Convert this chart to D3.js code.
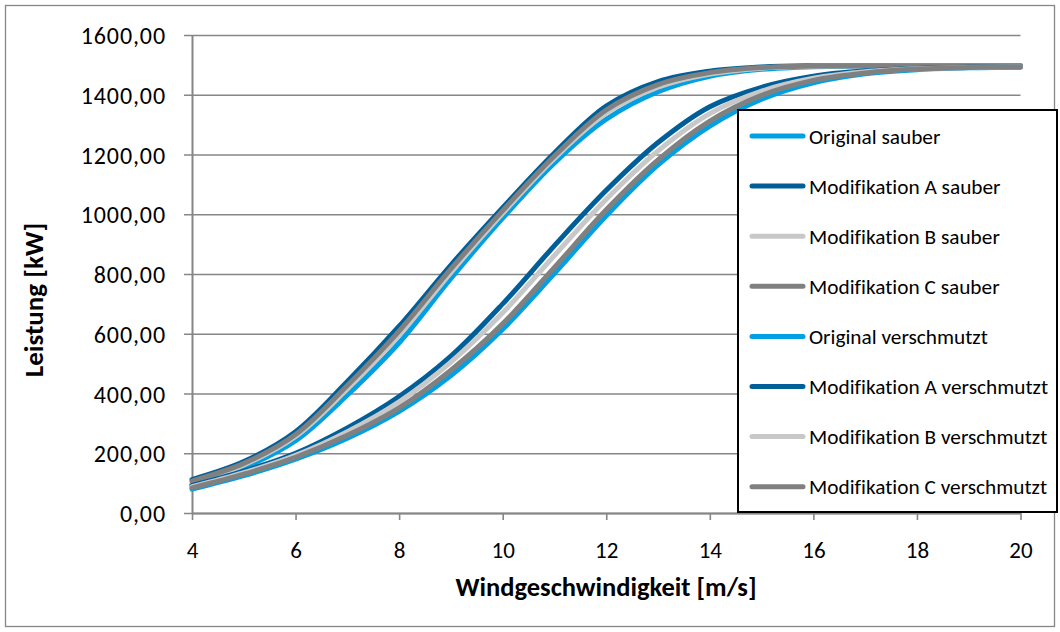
<!DOCTYPE html>
<html>
<head>
<meta charset="utf-8">
<script src="https://cdn.jsdelivr.net/npm/d3@7"></script>
<style>
  body { margin: 0; background: #fff; }
  svg text { font-family: Carlito, Calibri, Lato, "Open Sans", sans-serif; fill: #000; font-variant-ligatures: none; font-feature-settings: "liga" 0, "clig" 0; }
</style>
</head>
<body>
<svg id="chart" width="1060" height="632"></svg>
<script>
// Power curves (kW) over wind speed (m/s), clean vs. soiled blades
const windSpeeds = [4, 5, 6, 7, 8, 9, 10, 11, 12, 13, 14, 15, 16, 17, 18, 19, 20];

const originalSauber      = [95, 152, 242, 395, 570, 785, 987, 1172, 1318, 1410, 1462, 1485, 1494, 1496, 1497, 1497, 1497];
const modASauber          = [112, 172, 272, 440, 625, 830, 1022, 1205, 1362, 1444, 1479, 1493, 1497, 1497, 1497, 1497, 1497];
const modBSauber          = [103, 161, 256, 415, 595, 805, 1003, 1187, 1338, 1425, 1469, 1489, 1495, 1496, 1497, 1497, 1497];
const modCSauber          = [107, 166, 263, 427, 609, 817, 1012, 1195, 1349, 1434, 1474, 1491, 1496, 1497, 1497, 1497, 1497];
const originalVerschmutzt = [80, 125, 180, 250, 340, 460, 615, 802, 995, 1165, 1295, 1385, 1440, 1470, 1484, 1490, 1492];
const modAVerschmutzt     = [92, 140, 200, 285, 390, 525, 700, 895, 1080, 1240, 1360, 1425, 1462, 1480, 1488, 1492, 1493];
const modBVerschmutzt     = [88, 135, 193, 272, 372, 505, 670, 862, 1050, 1212, 1337, 1412, 1455, 1477, 1487, 1491, 1493];
const modCVerschmutzt     = [84, 130, 186, 260, 352, 478, 633, 822, 1015, 1182, 1312, 1398, 1448, 1473, 1486, 1491, 1493];

const seriesNames = [
  "Original sauber", "Modifikation A sauber", "Modifikation B sauber", "Modifikation C sauber",
  "Original verschmutzt", "Modifikation A verschmutzt", "Modifikation B verschmutzt", "Modifikation C verschmutzt"
];
const seriesValues = [
  originalSauber, modASauber, modBSauber, modCSauber,
  originalVerschmutzt, modAVerschmutzt, modBVerschmutzt, modCVerschmutzt
];
const seriesColors = ["#00a0e3", "#005f98", "#c8c8c8", "#808080", "#00a0e3", "#005f98", "#c8c8c8", "#808080"];

const yTicks = [0, 200, 400, 600, 800, 1000, 1200, 1400, 1600];
const xTicks = [4, 6, 8, 10, 12, 14, 16, 18, 20];
const xTitle = "Windgeschwindigkeit [m/s]";
const yTitle = "Leistung [kW]";

const svg = d3.select("#chart");
const axisColor = "#868686";

const x = d3.scaleLinear().domain([4, 20]).range([192, 1020.5]);
const y = d3.scaleLinear().domain([0, 1600]).range([513, 35]);
const plotW = x(20) - x(4);

// outer chart frame
svg.append("rect")
  .attr("x", 5.5).attr("y", 5.5).attr("width", 1049).attr("height", 621)
  .attr("fill", "#fff").attr("stroke", axisColor).attr("stroke-width", 1.3);

const fmt = d => d.toFixed(2).replace(".", ",");

// y axis with horizontal gridlines
const yAxis = svg.append("g")
  .attr("transform", `translate(${x(4)},0)`)
  .call(d3.axisLeft(y).tickValues(yTicks).tickSizeInner(-plotW).tickSizeOuter(0).tickPadding(26).tickFormat(fmt));
yAxis.select(".domain").attr("stroke", axisColor).attr("stroke-width", 2);
yAxis.selectAll(".tick line").attr("x1", -8).attr("x2", plotW).attr("stroke", axisColor).attr("stroke-width", 1.6);
yAxis.selectAll(".tick text").attr("font-size", 24).attr("letter-spacing", 0.9).attr("dy", "0.36em");

// x axis
const xAxis = svg.append("g")
  .attr("transform", `translate(0,${y(0)})`)
  .call(d3.axisBottom(x).tickValues(xTicks).tickSizeInner(7).tickSizeOuter(0).tickFormat(d3.format("d")));
xAxis.select(".domain").attr("stroke", axisColor).attr("stroke-width", 2);
xAxis.selectAll(".tick line").attr("stroke", axisColor).attr("stroke-width", 1.6);
xAxis.selectAll(".tick text").attr("font-size", 23).attr("y", 45).attr("dy", 0);

// axis titles
svg.append("text")
  .attr("x", 606).attr("y", 596)
  .attr("text-anchor", "middle").attr("font-size", 26.5).attr("font-weight", "bold")
  .text(xTitle);
svg.append("text")
  .attr("transform", "translate(43,300) rotate(-90)")
  .attr("text-anchor", "middle").attr("font-size", 27).attr("font-weight", "bold")
  .text(yTitle);

// curves
const line = d3.line()
  .x((d, i) => x(windSpeeds[i]))
  .y(d => y(d))
  .curve(d3.curveCatmullRom.alpha(0.5));

svg.append("g").selectAll("path")
  .data(seriesValues)
  .join("path")
  .attr("d", line)
  .attr("fill", "none")
  .attr("stroke", (d, i) => seriesColors[i])
  .attr("stroke-width", 5)
  .attr("stroke-linejoin", "round")
  .attr("stroke-linecap", "round");

// legend
const legend = svg.append("g");
legend.append("rect")
  .attr("x", 738).attr("y", 110).attr("width", 319).attr("height", 402)
  .attr("fill", "#fff").attr("stroke", "#000").attr("stroke-width", 2);

const rows = legend.selectAll("g.row")
  .data(seriesNames)
  .join("g")
  .attr("class", "row")
  .attr("transform", (d, i) => `translate(0,${136 + i * 50.1})`);
rows.append("line")
  .attr("x1", 752).attr("x2", 803)
  .attr("stroke", (d, i) => seriesColors[i])
  .attr("stroke-width", 5).attr("stroke-linecap", "round");
rows.append("text")
  .attr("x", 809).attr("dy", "0.36em")
  .attr("font-size", 21.3)
  .text(d => d);
</script>
</body>
</html>
